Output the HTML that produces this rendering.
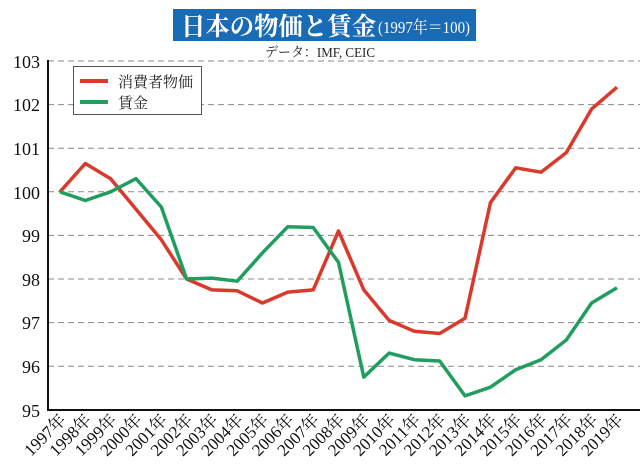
<!DOCTYPE html>
<html><head><meta charset="utf-8"><style>
html,body{margin:0;padding:0;background:#fff;width:640px;height:469px;overflow:hidden}
svg text{font-family:"Liberation Serif","Noto Serif CJK SC","Noto Sans CJK JP",serif}
</style></head><body>
<svg width="640" height="469" viewBox="0 0 640 469" xmlns="http://www.w3.org/2000/svg">
<rect x="173" y="9" width="303" height="32" fill="#1a6bb5"/>
<text x="181" y="35" font-size="25" font-weight="bold" fill="#fff" textLength="195" lengthAdjust="spacingAndGlyphs" font-family="'Noto Serif CJK SC','Noto Sans CJK JP',serif">日本の物価と賃金</text>
<text x="378" y="33" font-size="17" fill="#fff" textLength="92" lengthAdjust="spacingAndGlyphs">(1997年＝100)</text>
<text x="320" y="57" font-size="14" text-anchor="middle" fill="#222" textLength="110" lengthAdjust="spacingAndGlyphs" font-family="'Noto Sans CJK JP',sans-serif">データ：IMF, CEIC</text>
<g stroke="#888" stroke-dasharray="6,4" stroke-width="1">
<line x1="48" x2="640" y1="61" y2="61"/><line x1="48" x2="640" y1="104.6" y2="104.6"/>
<line x1="48" x2="640" y1="148.2" y2="148.2"/><line x1="48" x2="640" y1="191.8" y2="191.8"/>
<line x1="48" x2="640" y1="235.4" y2="235.4"/><line x1="48" x2="640" y1="279" y2="279"/>
<line x1="48" x2="640" y1="322.6" y2="322.6"/><line x1="48" x2="640" y1="366.2" y2="366.2"/>
</g>
<line x1="48" y1="60" x2="48" y2="411" stroke="#111" stroke-width="2"/>
<line x1="47" y1="410" x2="640" y2="410" stroke="#111" stroke-width="2"/>
<g font-size="18" fill="#111" text-anchor="end">
<text x="40" y="68">103</text><text x="40" y="111">102</text><text x="40" y="155">101</text>
<text x="40" y="199">100</text><text x="40" y="242">99</text><text x="40" y="286">98</text>
<text x="40" y="329">97</text><text x="40" y="373">96</text><text x="40" y="417">95</text>
</g>
<polyline fill="none" stroke="#d93a2b" stroke-width="3.5" stroke-linejoin="round" points="60,191.8 85.3,163.5 110.6,178.7 136,209.2 161.3,239.8 186.6,279 211.9,289.9 237.2,290.8 262.5,303 287.8,292.1 313.2,289.9 338.5,231 363.8,289.9 389.1,320.4 414.4,331.3 439.7,333.5 465,318.3 490.4,202.7 515.7,167.8 541,172.2 566.3,152.6 591.6,109 617,87.2"/>
<polyline fill="none" stroke="#1f9e5e" stroke-width="3.5" stroke-linejoin="round" points="60,191.8 85.3,200.5 110.6,191.8 136,178.7 161.3,207 186.6,279 211.9,278.1 237.2,281.2 262.5,252.8 287.8,226.7 313.2,227.5 338.5,262.4 363.8,377.1 389.1,353.1 414.4,359.7 439.7,361 465,395.9 490.4,387.2 515.7,369.7 541,359.7 566.3,340 591.6,303 617,287.7"/>
<rect x="73.5" y="66.5" width="128" height="48" fill="#fff" stroke="#555" stroke-width="1"/>
<line x1="80" y1="81" x2="108" y2="81" stroke="#d93a2b" stroke-width="4"/>
<line x1="80" y1="102" x2="108" y2="102" stroke="#1f9e5e" stroke-width="4"/>
<g font-size="15" fill="#222" font-family="'Noto Serif CJK SC','Noto Sans CJK JP',serif">
<text x="118" y="87">消費者物価</text><text x="118" y="108">賃金</text>
</g>
<g font-size="17" fill="#111" text-anchor="end">
<text transform="translate(67,421) rotate(-45)">1997年</text>
<text transform="translate(92.3,421) rotate(-45)">1998年</text>
<text transform="translate(117.6,421) rotate(-45)">1999年</text>
<text transform="translate(143,421) rotate(-45)">2000年</text>
<text transform="translate(168.3,421) rotate(-45)">2001年</text>
<text transform="translate(193.6,421) rotate(-45)">2002年</text>
<text transform="translate(218.9,421) rotate(-45)">2003年</text>
<text transform="translate(244.2,421) rotate(-45)">2004年</text>
<text transform="translate(269.5,421) rotate(-45)">2005年</text>
<text transform="translate(294.8,421) rotate(-45)">2006年</text>
<text transform="translate(320.2,421) rotate(-45)">2007年</text>
<text transform="translate(345.5,421) rotate(-45)">2008年</text>
<text transform="translate(370.8,421) rotate(-45)">2009年</text>
<text transform="translate(396.1,421) rotate(-45)">2010年</text>
<text transform="translate(421.4,421) rotate(-45)">2011年</text>
<text transform="translate(446.7,421) rotate(-45)">2012年</text>
<text transform="translate(472,421) rotate(-45)">2013年</text>
<text transform="translate(497.4,421) rotate(-45)">2014年</text>
<text transform="translate(522.7,421) rotate(-45)">2015年</text>
<text transform="translate(548,421) rotate(-45)">2016年</text>
<text transform="translate(573.3,421) rotate(-45)">2017年</text>
<text transform="translate(598.6,421) rotate(-45)">2018年</text>
<text transform="translate(624,421) rotate(-45)">2019年</text>
</g>
</svg>
</body></html>
